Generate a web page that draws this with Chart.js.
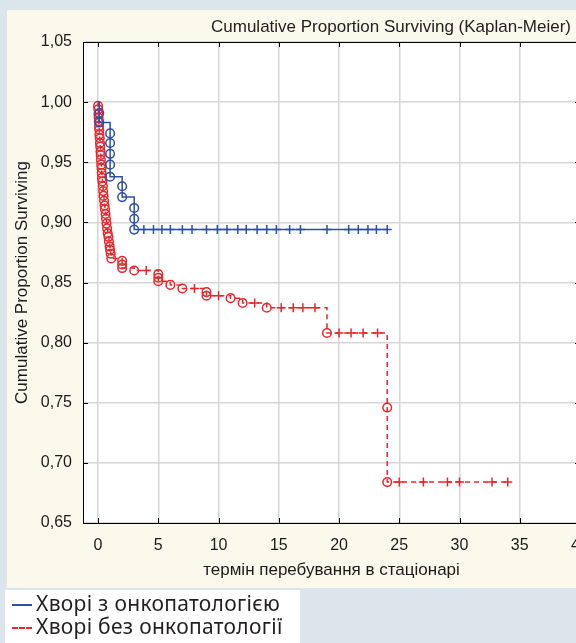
<!DOCTYPE html>
<html>
<head>
<meta charset="utf-8">
<script src="https://cdn.jsdelivr.net/npm/chart.js@4/dist/chart.umd.min.js"></script>
<style>
  html, body { margin: 0; padding: 0; overflow: hidden; }
  body { width: 576px; height: 643px; background: #dbe5eb; position: relative; font-family: "Liberation Sans", Arial, sans-serif; }
  #panel { position: absolute; left: 7px; top: 10px; width: 580px; height: 578px; background: #fbf8ec; }
  #wrap { position: absolute; left: 0; top: 0; width: 605px; height: 590px; }
  #title { position: absolute; top: 17px; right: 5px; font-size: 17px; color: #222; white-space: nowrap; }
  #legend { position: absolute; left: 5px; top: 590px; width: 295px; height: 53px; background: #fff;
            font-family: "Noto Sans", sans-serif; font-size: 21px; letter-spacing: 0.3px; color: #231f20; }
  .row { position: absolute; left: 0; white-space: nowrap; height: 23px; line-height: 23px; }
  .sample { position: absolute; left: 7px; top: 12px; width: 20px; height: 0; }
  .row span.txt { position: absolute; left: 31px; top: 0; }
</style>
</head>
<body>
<div id="panel"></div>
<div id="wrap"><canvas id="km" width="605" height="590"></canvas></div>
<div id="title">Cumulative Proportion Surviving (Kaplan-Meier)</div>
<div id="legend">
  <div class="row" style="top:2px"><div class="sample" style="border-top:2px solid #2f4fa6"></div><span class="txt">Хворі з онкопатологією</span></div>
  <div class="row" style="top:25px"><div class="sample" style="border-top:2px dashed #e8262b"></div><span class="txt">Хворі без онкопатології</span></div>
</div>
<script>
// tick labels
const xTicks = [0, 5, 10, 15, 20, 25, 30, 35, 40];
const yTicks = [0.65, 0.70, 0.75, 0.80, 0.85, 0.90, 0.95, 1.00, 1.05];

// patients with oncopathology (blue). 'o' = event, '+' = censored, '' = start
const onkoTime = [0, 0.1, 0.1, 1, 1, 1, 1, 1, 2, 2, 3, 3, 3,
  3.8, 4.6, 5.3, 6, 7, 7.8, 9, 9.9, 10.7, 11.6, 12.3, 13.2, 14, 14.8, 15.9, 16.8, 19, 20.8, 21.6, 22.4, 23.1, 24];
const onkoSurv = [1.000, 0.991, 0.983, 0.974, 0.966, 0.957, 0.948, 0.938, 0.930, 0.921, 0.912, 0.903, 0.894,
  0.894, 0.894, 0.894, 0.894, 0.894, 0.894, 0.894, 0.894, 0.894, 0.894, 0.894, 0.894, 0.894, 0.894, 0.894, 0.894, 0.894, 0.894, 0.894, 0.894, 0.894, 0.894];
const onkoMark = ['', 'o', 'o', 'o', 'o', 'o', 'o', 'o', 'o', 'o', 'o', 'o', 'o',
  '+', '+', '+', '+', '+', '+', '+', '+', '+', '+', '+', '+', '+', '+', '+', '+', '+', '+', '+', '+', '+', '+'];

// patients without oncopathology (red)
const noOnkoTime = [0, 0, 0.02, 0.03, 0.05, 0.06, 0.08, 0.1, 0.11, 0.14, 0.16, 0.18, 0.2, 0.22, 0.23, 0.26, 0.29, 0.3,
  0.33, 0.36, 0.4, 0.42, 0.45, 0.5, 0.54, 0.57, 0.62, 0.66, 0.7, 0.75, 0.8, 0.86, 0.9, 0.96, 1, 1.05, 1.1,
  2, 2, 2, 3, 4, 5, 5, 5, 6, 7, 8, 9, 9, 10, 11, 12, 13, 14, 15.2, 16.2, 17, 18,
  19, 20, 21, 22, 23.2, 24, 24, 25, 27, 29, 30, 32.7, 34];
const noOnkoSurv = [1.000, 0.997, 0.994, 0.990, 0.987, 0.984, 0.980, 0.977, 0.973, 0.970, 0.966, 0.963, 0.959, 0.956, 0.952, 0.948, 0.945, 0.941,
  0.937, 0.934, 0.930, 0.926, 0.922, 0.918, 0.914, 0.911, 0.907, 0.903, 0.899, 0.895, 0.891, 0.888, 0.884, 0.880, 0.877, 0.874, 0.870,
  0.868, 0.865, 0.862, 0.860, 0.860, 0.857, 0.854, 0.851, 0.848, 0.845, 0.845, 0.842, 0.839, 0.839, 0.837, 0.833, 0.833, 0.829, 0.829, 0.829, 0.829, 0.829,
  0.808, 0.808, 0.808, 0.808, 0.808, 0.746, 0.684, 0.684, 0.684, 0.684, 0.684, 0.684, 0.684];
const noOnkoMark = ['', 'o', 'o', 'o', 'o', 'o', 'o', 'o', 'o', 'o', 'o', 'o', 'o', 'o', 'o', 'o', 'o', 'o',
  'o', 'o', 'o', 'o', 'o', 'o', 'o', 'o', 'o', 'o', 'o', 'o', 'o', 'o', 'o', 'o', 'o', 'o', 'o',
  'o', 'o', 'o', 'o', '+', 'o', 'o', 'o', 'o', 'o', '+', 'o', 'o', '+', 'o', 'o', '+', 'o', '+', '+', '+', '+',
  'o', '+', '+', '+', '+', 'o', 'o', '+', '+', '+', '+', '+', '+'];

const blue = '#2f4fa6';
const red = '#e8262b';
const font = { family: 'Liberation Sans', size: 16 };
const titleFont = { family: 'Liberation Sans', size: 17 };

function points(t, s) {
  return t.map((x, i) => ({ x: x, y: s[i] }));
}

function series(label, t, s, marks, color, dash) {
  return {
    label: label,
    data: points(t, s),
    stepped: 'before',
    borderColor: color,
    borderWidth: 1.5,
    borderDash: dash,
    pointBorderColor: color,
    pointBackgroundColor: 'rgba(0,0,0,0)',
    pointBorderWidth: 1.5,
    pointStyle: ctx => marks[ctx.dataIndex] === '+' ? 'cross' : 'circle',
    pointRadius: ctx => marks[ctx.dataIndex] === '' ? 0 : (marks[ctx.dataIndex] === '+' ? 4.5 : 4.3)
  };
}

// white plot area, full frame and inward tick marks
const frame = {
  id: 'frame',
  beforeDraw(chart) {
    const { ctx, chartArea: a } = chart;
    ctx.save();
    ctx.fillStyle = '#fff';
    ctx.fillRect(a.left, a.top, a.width, a.height);
    ctx.restore();
  },
  beforeDatasetsDraw(chart) {
    const { ctx, chartArea: a, scales } = chart;
    ctx.save();
    ctx.strokeStyle = '#000';
    ctx.lineWidth = 1;
    ctx.beginPath();
    xTicks.forEach(v => {
      const px = Math.round(scales.x.getPixelForValue(v)) + 0.5;
      ctx.moveTo(px, a.top); ctx.lineTo(px, a.top + 5);
      ctx.moveTo(px, a.bottom); ctx.lineTo(px, a.bottom - 5);
    });
    yTicks.forEach(v => {
      const py = Math.round(scales.y.getPixelForValue(v)) + 0.5;
      ctx.moveTo(a.left, py); ctx.lineTo(a.left + 5, py);
      ctx.moveTo(a.right, py); ctx.lineTo(a.right - 5, py);
    });
    ctx.stroke();
    ctx.strokeRect(Math.round(a.left) + 0.5, Math.round(a.top) + 0.5, Math.round(a.width), Math.round(a.height));
    ctx.restore();
  }
};

new Chart(document.getElementById('km'), {
  type: 'line',
  data: {
    datasets: [
      series('Хворі з онкопатологією', onkoTime, onkoSurv, onkoMark, blue, []),
      series('Хворі без онкопатології', noOnkoTime, noOnkoSurv, noOnkoMark, red, [5, 4])
    ]
  },
  options: {
    responsive: false,
    animation: false,
    layout: { padding: { top: 42, right: 25, bottom: 0, left: 0 } },
    plugins: { legend: { display: false }, tooltip: { enabled: false } },
    scales: {
      x: {
        type: 'linear',
        min: -1.25,
        max: 40,
        afterBuildTicks: s => { s.ticks = xTicks.map(v => ({ value: v })); },
        afterFit: s => { s.height = 67; },
        grid: { color: '#d6d6d6', lineWidth: 1.5, drawTicks: false },
        border: { display: true, color: '#000', width: 1 },
        ticks: { padding: 13, color: '#1a1a1a', font: font, maxRotation: 0, autoSkip: false, callback: v => String(v) },
        title: { display: true, text: 'термін перебування в стаціонарі', color: '#1a1a1a', font: titleFont, padding: { top: 0, bottom: 9 } }
      },
      y: {
        type: 'linear',
        min: 0.65,
        max: 1.05,
        afterBuildTicks: s => { s.ticks = yTicks.map(v => ({ value: v })); },
        afterFit: s => { s.width = 83; },
        grid: { color: '#d6d6d6', lineWidth: 1.5, drawTicks: false },
        border: { display: true, color: '#000', width: 1 },
        ticks: { padding: 11, color: '#1a1a1a', font: font, callback: v => v.toFixed(2).replace('.', ',') },
        title: { display: true, text: 'Cumulative Proportion Surviving', color: '#1a1a1a', font: titleFont, padding: { top: 12, bottom: 0 } }
      }
    }
  },
  plugins: [frame]
});
</script>
</body>
</html>
